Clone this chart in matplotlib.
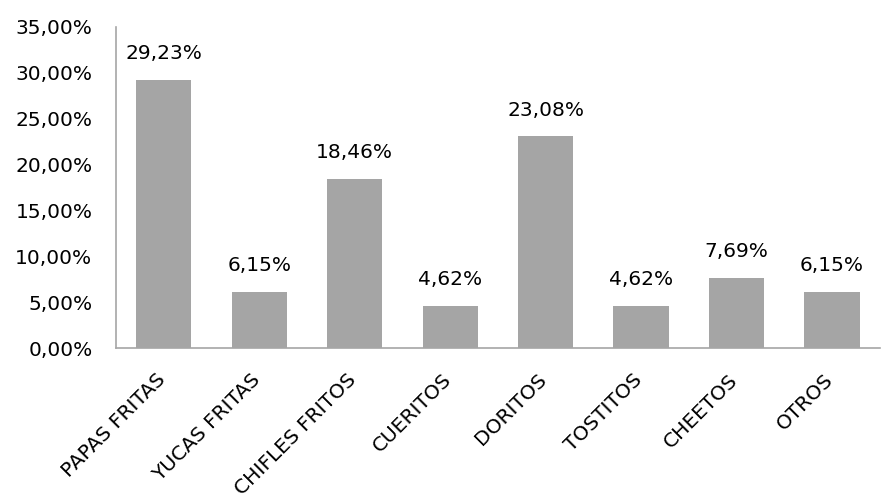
import matplotlib
matplotlib.use('Agg')
from matplotlib import pyplot as plt
from matplotlib.transforms import ScaledTranslation

# data
categorias = ['PAPAS FRITAS', 'YUCAS FRITAS', 'CHIFLES FRITOS', 'CUERITOS',
              'DORITOS', 'TOSTITOS', 'CHEETOS', 'OTROS']
porcentajes = [29.23, 6.15, 18.46, 4.62, 23.08, 4.62, 7.69, 6.15]
yticks = [0, 5, 10, 15, 20, 25, 30, 35]

plt.rcParams['font.family'] = ['DejaVu Sans']

fig = plt.figure(figsize=(8.81, 4.98), dpi=100)
ax = fig.add_axes([0.1317, 0.301, 0.867, 0.645])

x = range(len(categorias))
bars = ax.bar(x, porcentajes, width=0.58, color='#A5A5A5')

for b, v in zip(bars, porcentajes):
    ax.text(b.get_x() + b.get_width() / 2, v + 1.8,
            ('%.2f' % v).replace('.', ',') + '%',
            ha='center', va='bottom', fontsize=14.5, color='#000000')

ax.set_xlim(-0.5, len(categorias) - 0.5)
ax.set_ylim(0, 35)
ax.set_yticks(yticks)
ax.set_yticklabels([('%.2f' % t).replace('.', ',') + '%' for t in yticks], fontsize=14.5)
ax.set_xticks(list(x))
ax.set_xticklabels(categorias, rotation=45, ha='right', rotation_mode='anchor', fontsize=14.5)
ax.tick_params(length=0)
ax.tick_params(axis='y', pad=17)
ax.tick_params(axis='x', pad=16)

# nudge the slanted labels a little to the left
shift = ScaledTranslation(-6 / 72, 0, fig.dpi_scale_trans)
for lab in ax.get_xticklabels():
    lab.set_transform(lab.get_transform() + shift)

for s in ['top', 'right']:
    ax.spines[s].set_visible(False)
for s in ['left', 'bottom']:
    ax.spines[s].set_color('#A6A6A6')
    ax.spines[s].set_linewidth(1.2)

fig.savefig('out.png', dpi=100)
